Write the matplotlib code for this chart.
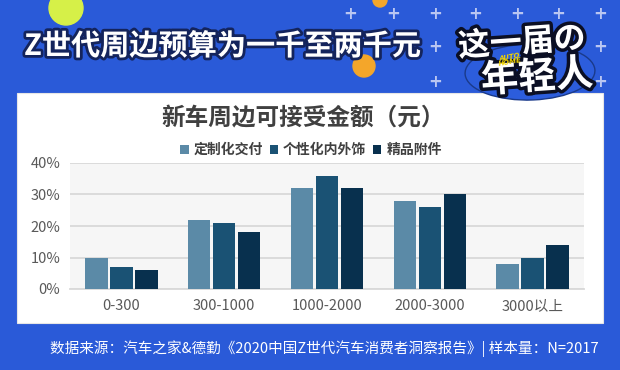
import numpy as np
import matplotlib
matplotlib.use("Agg")
import matplotlib.pyplot as plt
import matplotlib.patheffects as pe
from matplotlib.patches import Rectangle, Ellipse

plt.rcParams['font.family'] = ['Noto Sans CJK SC', 'DejaVu Sans']

categories = ["0-300", "300-1000", "1000-2000", "2000-3000", "3000以上"]
series_names = ["定制化交付", "个性化内外饰", "精品附件"]
custom_delivery = [10, 22, 32, 28, 8]
personal_trim = [7, 21, 36, 26, 10]
accessories = [6, 18, 32, 30, 14]
colors = ["#5b8aa7", "#1a5274", "#08304e"]

W, H = 620, 370


def fx(x):
    return x / W


def fy(y):
    return 1 - y / H


fig = plt.figure(figsize=(6.2, 3.7), dpi=100)
fig.patch.set_facecolor("#2a5ad8")

# decorations on the blue background
fig.add_artist(Ellipse((fx(66), fy(8)), 34 / W, 34 / H, transform=fig.transFigure,
                       color="#d6f048", zorder=0))
fig.add_artist(Ellipse((fx(364), fy(66)), 22 / W, 22 / H, transform=fig.transFigure,
                       color="#f4a62a", zorder=0))
fig.add_artist(Ellipse((fx(380), fy(0)), 14 / W, 14 / H, transform=fig.transFigure,
                       color="#f4a62a", zorder=0))
plus_pts = [(350, 14), (393, 14), (435, 14), (475, 14), (517, 14), (558, 14), (600, 14),
            (435, 47), (600, 47), (435, 82), (600, 82)]
for px, py in plus_pts:
    fig.text(fx(px), fy(py), "+", color="#b9c6f2", fontsize=12, fontweight="bold",
             ha="center", va="center", family="DejaVu Sans")

# white panel
fig.add_artist(Rectangle((fx(17), fy(323)), 586 / W, 230 / H, transform=fig.transFigure,
                         facecolor="white", edgecolor="#e6e6e6", lw=0.8, zorder=1))

# logo backdrop
fig.add_artist(Ellipse((fx(530), fy(72)), 130 / W, 56 / H, angle=4, transform=fig.transFigure,
                       facecolor="#2c5ddc", edgecolor="#1a3a8a", lw=1.0, zorder=2))

ax = fig.add_axes([fx(70), fy(289), 514 / W, 126 / H])
ax.set_zorder(3)
ax.set_facecolor("#f6f6f6")

x = np.arange(len(categories))
bw = 0.219
step = 0.243
for i, (vals, name) in enumerate(zip([custom_delivery, personal_trim, accessories], series_names)):
    ax.bar(x + (i - 1) * step, vals, width=bw, color=colors[i], label=name, zorder=3)

ax.set_xlim(-0.5, 4.5)
ax.set_ylim(0, 40)
ax.set_yticks([0, 10, 20, 30, 40])
ax.set_yticklabels(["%d%%" % v for v in [0, 10, 20, 30, 40]])
ax.set_xticks(x)
ax.set_xticklabels(categories)
ax.grid(axis="y", color="#d9d9d9", lw=1.3, zorder=1)
for s in ["top", "left", "right"]:
    ax.spines[s].set_visible(False)
ax.spines["bottom"].set_color("#d9d9d9")
ax.spines["bottom"].set_linewidth(1.3)
ax.tick_params(length=0, labelsize=10.5, colors="#595959")
ax.tick_params(axis="y", pad=7)
ax.tick_params(axis="x", pad=7)

ax.legend(loc="center", bbox_to_anchor=(fx(311), fy(150)), bbox_transform=fig.transFigure,
          ncol=3, frameon=False, handlelength=0.6, handleheight=0.6, handletextpad=0.35,
          columnspacing=0.5, prop={"size": 10, "weight": "bold"}, labelcolor="#404040")

fig.text(fx(303), fy(118), "新车周边可接受金额（元）", ha="center", va="center",
         fontsize=17, fontweight="bold", color="#404040", zorder=4)

stroke = [pe.withStroke(linewidth=4, foreground="#14245c")]
fig.text(fx(24), fy(46), "Z世代周边预算为一千至两千元", ha="left", va="center",
         fontsize=21, fontweight="bold", color="white", path_effects=stroke, zorder=4)

logo_stroke = [pe.withStroke(linewidth=5, foreground="#0b0f24")]
fig.text(fx(522), fy(43), "这一届の", ha="center", va="center", fontsize=23,
         fontweight="black", color="white", rotation=4, path_effects=logo_stroke, zorder=5)
fig.text(fx(537), fy(77), "年轻人", ha="center", va="center", fontsize=27,
         fontweight="black", color="white", rotation=4, path_effects=logo_stroke, zorder=5)
fig.text(fx(510), fy(60), "AUTO\nHOME", ha="center", va="center", fontsize=5,
         fontweight="bold", fontstyle="italic", color="#f2d400", rotation=10,
         linespacing=0.8, family="DejaVu Sans", zorder=6)

fig.text(fx(324), fy(349), "数据来源：汽车之家&德勤《2020中国Z世代汽车消费者洞察报告》| 样本量：N=2017",
         ha="center", va="center", fontsize=10.5, color="white", zorder=4)

fig.savefig("out.png", dpi=100, facecolor=fig.get_facecolor())
